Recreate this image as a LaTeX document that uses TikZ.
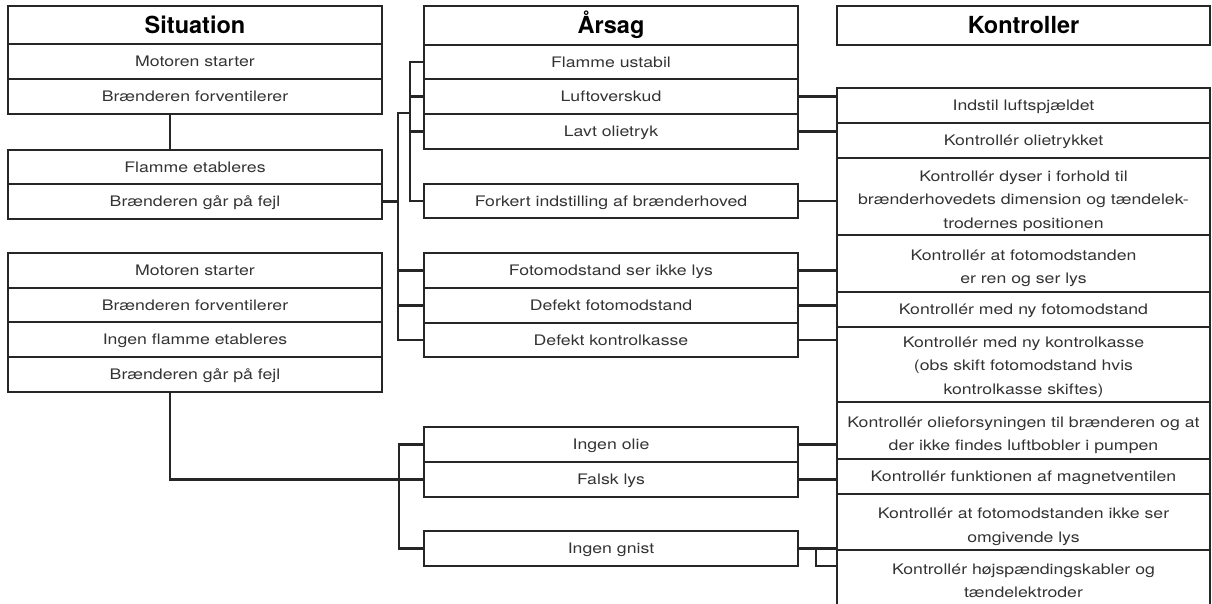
\documentclass[tikz,border=0pt]{standalone}
\usepackage{fontspec}
\newfontfamily\bodyfont[FakeStretch=1.22]{TeX Gyre Heros}
\newfontfamily\headfont{TeX Gyre Heros}
\definecolor{ink}{HTML}{262626}
\definecolor{txt}{HTML}{333333}
% invisible strut that lowers a multi-line text block a little
\newcommand\toppad{\rule{0pt}{20pt}}
\begin{document}
\begin{tikzpicture}[x=1pt,y=-1pt,
  cell/.style={draw=ink, line width=2.6pt, inner sep=0pt, outer sep=0pt,
    anchor=north west, minimum width=374pt, text=txt,
    font=\bodyfont\fontsize{14.5}{23.5}\selectfont},
  one/.style={cell, text height=10.4pt, text depth=0pt},
  multi/.style={cell, align=center},
  head/.style={cell, font=\headfont\bfseries\fontsize{23.5}{28}\selectfont,
    text=black, text height=16.9pt, text depth=0pt},
  wire/.style={draw=ink, line width=2.6pt}
]
\useasboundingbox (0,0) rectangle (1212,604);
\clip (0,0) rectangle (1212,604);

% column headers
\node[head, minimum height=38pt] (h1) at (8,6) {Situation};
\node[head, minimum height=39pt] (h2) at (424,6) {Årsag};
\node[head, minimum height=39pt, minimum width=373pt] (h3) at (837,6) {Kontroller};

% situations
\node[one, minimum height=35pt] (s1) at (8,44) {Motoren starter};
\node[one, minimum height=35pt] (s2) at (8,79) {Brænderen forventilerer};
\node[one, minimum height=34pt] (s3) at (8,150) {Flamme etableres};
\node[one, minimum height=35pt] (s4) at (8,184) {Brænderen går på fejl};

\node[one, minimum height=35pt] (t1) at (8,253) {Motoren starter};
\node[one, minimum height=34pt] (t2) at (8,288) {Brænderen forventilerer};
\node[one, minimum height=35pt] (t3) at (8,322) {Ingen flamme etableres};
\node[one, minimum height=35pt] (t4) at (8,357) {Brænderen går på fejl};

% causes
\node[one, minimum height=34pt] (a1) at (424,45) {Flamme ustabil};
\node[one, minimum height=35pt] (a2) at (424,79) {Luftoverskud};
\node[one, minimum height=35pt] (a3) at (424,114) {Lavt olietryk};
\node[one, minimum height=34pt] (a4) at (424,184) {Forkert indstilling af brænderhoved};
\node[one, minimum height=35pt] (a5) at (424,253) {Fotomodstand ser ikke lys};
\node[one, minimum height=35pt] (a6) at (424,288) {Defekt fotomodstand};
\node[one, minimum height=34pt] (a7) at (424,323) {Defekt kontrolkasse};
\node[one, minimum height=35pt] (a8) at (424,427) {Ingen olie};
\node[one, minimum height=35pt] (a9) at (424,462) {Falsk lys};
\node[one, minimum height=35pt] (a10) at (424,531) {Ingen gnist};

% checks
\tikzset{chk/.style={minimum width=373pt}}
\node[one, chk, minimum height=35pt] (k1) at (837,88) {Indstil luftspjældet};
\node[one, chk, minimum height=35pt] (k2) at (837,123) {Kontrollér olietrykket};
\node[multi, chk, minimum height=77pt] (k3) at (837,158)
  {\toppad Kontrollér dyser i forhold til\\brænderhovedets dimension og tændelek-\\trodernes positionen};
\node[multi, chk, minimum height=57pt] (k4) at (837,235)
  {\toppad Kontrollér at fotomodstanden\\er ren og ser lys};
\node[one, chk, minimum height=35pt] (k5) at (837,292) {Kontrollér med ny fotomodstand};
\node[multi, chk, minimum height=75pt] (k6) at (837,327)
  {\rule{0pt}{16pt}Kontrollér med ny kontrolkasse\\(obs skift fotomodstand hvis\\kontrolkasse skiftes)};
\node[multi, chk, minimum height=57pt] (k7) at (837,402)
  {\toppad Kontrollér olieforsyningen til brænderen og at\\der ikke findes luftbobler i pumpen};
\node[one, chk, minimum height=35pt] (k8) at (837,459) {Kontrollér funktionen af magnetventilen};
\node[multi, chk, minimum height=56pt] (k9) at (837,494)
  {\toppad Kontrollér at fotomodstanden ikke ser\\omgivende lys};
\node[multi, chk, minimum height=62pt] (k10) at (837,550)
  {Kontrollér højspændingskabler og\\tændelektroder};

% first situation: chain and branch to its causes
\draw[wire] ([xshift=162pt]s2.south west) -- ([xshift=162pt]s3.north west);
\coordinate (bA) at (398,113);
\coordinate (bB) at (410,113);
\draw[wire] (s4.east) -- (bA |- s4.east);
\draw[wire] (bB) -- (bA) -- (bA |- a7.west) -- (a7.west);
\draw[wire] (bA |- a5.west) -- (a5.west);
\draw[wire] (bA |- a6.west) -- (a6.west);
\draw[wire] (a1.west) -- (bB |- a1.west) -- (bB |- a4.west) -- (a4.west);
\draw[wire] (bB |- a2.west) -- (a2.west);
\draw[wire] (bB |- a3.west) -- (a3.west);

% second situation: branch to its causes
\coordinate (bC) at (399,0);
\draw[wire] ([xshift=162pt]t4.south west) |- (a9.west);
\draw[wire] (a8.west) -- (bC |- a8.west) -- (bC |- a10.west) -- (a10.west);

% causes to checks
\foreach \c/\k in {a2/k1, a3/k2, a4/k3, a5/k4, a6/k5, a7/k6, a8/k7, a9/k8, a10/k9}
  \draw[wire] (\c.east) -- (\c.east -| \k.west);
\draw[wire] ([xshift=18pt]a10.east) |- ([yshift=-16pt]k10.north west);
\end{tikzpicture}
\end{document}
